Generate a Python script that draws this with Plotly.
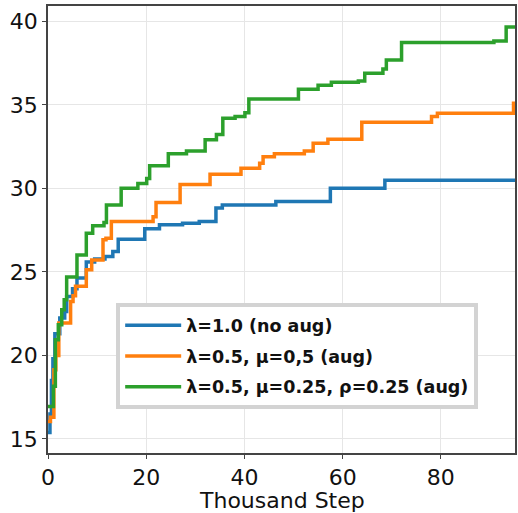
import plotly.graph_objects as go

# Step data (x in thousand steps, y = metric after the step)
blue_x = [0, 0.4, 0.7, 1.0, 1.4, 2.4, 3.4, 3.8, 5.0, 5.9, 7.8, 9.5, 11.6, 13.2, 14.3, 19.7, 22.7, 27.4, 30.8, 34.2, 35.5, 46.4, 57.5, 68.6, 95.5]
blue_y = [15.38, 16.5, 18.5, 19.8, 21.3, 22.24, 22.63, 23.53, 24.0, 24.63, 25.59, 25.77, 25.92, 26.22, 26.96, 27.58, 27.82, 27.92, 28.02, 28.82, 29.01, 29.21, 30.01, 30.49, 30.49]

orange_x = [0, 0.5, 1.2, 1.6, 2.2, 4.6, 5.1, 5.6, 7.8, 8.9, 11.2, 11.8, 12.9, 21.4, 22.0, 26.9, 33.0, 39.3, 43.1, 43.8, 46.1, 52.2, 54.0, 57.0, 63.9, 78.1, 79.3, 94.8, 95.5]
orange_y = [16.05, 16.3, 19.14, 20.0, 21.94, 23.23, 23.57, 24.15, 25.13, 25.72, 26.92, 27.02, 28.02, 28.31, 29.15, 30.23, 30.85, 31.2, 31.5, 31.9, 32.08, 32.24, 32.7, 32.94, 33.96, 34.3, 34.5, 35.1, 35.1]

green_x = [0, 1.1, 1.5, 2.1, 2.8, 3.3, 3.8, 5.9, 7.8, 9.1, 11.4, 11.9, 14.9, 18.3, 20.1, 20.7, 24.5, 28.2, 32.0, 34.3, 35.6, 38.1, 40.1, 40.9, 51.0, 55.0, 57.7, 63.2, 64.5, 68.2, 68.9, 72.0, 90.8, 93.3, 95.5]
green_y = [16.95, 18.15, 20.94, 21.84, 22.73, 23.33, 24.69, 26.02, 27.32, 27.76, 27.96, 29.01, 30.01, 30.3, 30.6, 31.36, 32.08, 32.24, 32.92, 33.22, 34.2, 34.3, 34.53, 35.35, 35.93, 36.17, 36.35, 36.43, 36.89, 37.15, 37.69, 38.74, 38.82, 39.66, 39.66]

names = ["λ=1.0 (no aug)", "λ=0.5, μ=0,5 (aug)", "λ=0.5, μ=0.25, ρ=0.25 (aug)"]
colors = ["#1f77b4", "#ff7f0e", "#2ca02c"]

x_ticks = [0, 20, 40, 60, 80]
y_ticks = [15, 20, 25, 30, 35, 40]
x_title = "Thousand Step"

fig = go.Figure()
for i, (xs, ys, nm, c) in enumerate(zip([blue_x, orange_x, green_x], [blue_y, orange_y, green_y], names, colors)):
    fig.add_trace(go.Scatter(x=xs, y=ys, mode="lines", name=nm, legendgroup=f"g{i}",
                             line=dict(color=c, width=3.5, shape="hv")))

axis_common = dict(showgrid=True, gridcolor="#e6e6e6", gridwidth=1,
                   showline=True, linecolor="#444444", linewidth=1.5, mirror=True,
                   ticks="outside", ticklen=4, tickwidth=1.2, tickcolor="#444444",
                   zeroline=False,
                   tickfont=dict(family="DejaVu Sans", size=22, color="#111111"))

fig.update_xaxes(range=[0, 95.1], tickvals=x_ticks, **axis_common)
fig.update_yaxes(range=[14.16, 40.92], tickvals=y_ticks, **axis_common)

plot_h = 513 - 6 - 60
fig.add_annotation(text=x_title, xref="paper", yref="paper", x=0.5, y=-61 / plot_h,
                   xanchor="center", yanchor="bottom", showarrow=False, borderpad=0,
                   font=dict(family="DejaVu Sans", size=22, color="#111111"))

fig.update_layout(
    width=518, height=513,
    margin=dict(l=48, r=1, t=6, b=60),
    plot_bgcolor="white", paper_bgcolor="white",
    showlegend=True,
    legend=dict(x=0.146, y=0.335, xanchor="left", yanchor="top",
                bgcolor="white", bordercolor="#d3d3d3", borderwidth=4,
                font=dict(family="DejaVu Sans", size=17.5, color="#111111", weight="bold"),
                itemwidth=56, tracegroupgap=5, traceorder="grouped",
                entrywidth=300, entrywidthmode="pixels"),
)

fig.write_html("out.html")
